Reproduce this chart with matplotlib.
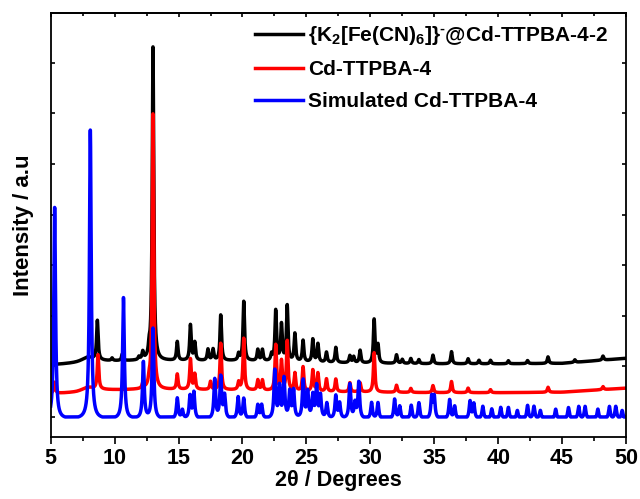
import numpy as np
import matplotlib
matplotlib.use("Agg")
import matplotlib.pyplot as plt
from matplotlib.ticker import MultipleLocator

plt.rcParams['font.family'] = ['Liberation Sans', 'DejaVu Sans']
plt.rcParams['font.weight'] = 'bold'
plt.rcParams['mathtext.fontset'] = 'custom'
plt.rcParams['mathtext.rm'] = 'Liberation Sans:bold'
plt.rcParams['mathtext.bf'] = 'Liberation Sans:bold'
plt.rcParams['mathtext.it'] = 'Liberation Sans:bold'
plt.rcParams['mathtext.default'] = 'bf'

# ---------------- data ----------------
labels = [r"{K$_2$[Fe(CN)$_6$]}$^{\text{-}}$@Cd-TTPBA-4-2", "Cd-TTPBA-4", "Simulated Cd-TTPBA-4"]
colors = ["#000000", "#ff0000", "#0000ff"]

# background anchor points of the measured patterns
bg_x = [5, 7, 9, 12, 15, 20, 25, 30, 35, 40, 45, 50]
black_bg = [1.03, 1.06, 1.10, 1.11, 1.11, 1.11, 1.08, 1.06, 1.05, 1.05, 1.06, 1.16]
red_bg = [0.46, 0.48, 0.53, 0.54, 0.54, 0.53, 0.50, 0.49, 0.48, 0.48, 0.49, 0.57]

# black: {K2[Fe(CN)6]}-@Cd-TTPBA-4-2 peaks (position, height above background)
black_pos = [7.9, 8.65, 9.8, 10.6, 11.9, 12.2, 12.7, 13.0, 14.9, 15.93, 16.27, 17.3, 17.7,
             18.3, 19.7, 20.1, 21.2, 21.56, 22.27, 22.6, 23.05, 23.5, 24.1, 24.74,
             25.5, 25.9, 26.57, 27.3, 28.4, 28.7, 29.2, 30.3, 30.6, 32.05, 32.5, 33.17, 33.8,
             34.9, 36.35, 37.65, 38.5, 39.4, 40.8, 42.3, 43.9, 46.0, 48.2]
black_h = [0.10, 0.78, 0.05, 0.13, 0.06, 0.15, 0.18, 6.20, 0.37, 0.70, 0.35, 0.22, 0.22,
           0.90, 0.13, 1.17, 0.22, 0.22, 0.13, 1.00, 0.72, 1.10, 0.55, 0.42,
           0.45, 0.36, 0.20, 0.30, 0.14, 0.12, 0.25, 0.86, 0.35, 0.17, 0.08, 0.10, 0.08,
           0.17, 0.24, 0.10, 0.07, 0.07, 0.06, 0.06, 0.13, 0.05, 0.08]

# red: Cd-TTPBA-4 peaks
red_pos = [5.3, 7.9, 8.7, 12.2, 12.7, 13.0, 14.9, 15.93, 16.27, 17.5, 18.3, 19.7, 20.1,
           21.2, 21.56, 22.6, 23.05, 23.5, 24.1, 24.74, 25.5, 25.9, 26.57, 27.3,
           28.4, 29.2, 30.3, 32.05, 33.17, 34.9, 36.35, 37.65, 39.4, 43.9, 48.2]
red_h = [0.22, 0.08, 0.68, 0.10, 0.12, 5.45, 0.30, 0.60, 0.30, 0.16, 0.92, 0.15, 1.02,
         0.20, 0.20, 0.90, 0.58, 0.98, 0.35, 0.48, 0.42, 0.36, 0.25, 0.25,
         0.18, 0.18, 0.78, 0.14, 0.08, 0.14, 0.22, 0.09, 0.06, 0.10, 0.06]

# blue: simulated Cd-TTPBA-4 peaks
blue_pos = [5.31, 8.1, 10.69, 12.25, 13.0, 14.9, 15.3, 15.9, 16.2, 17.83, 18.3, 18.6,
            19.66, 20.1, 21.2, 21.5, 22.53, 22.9, 23.25, 23.7, 24.0, 24.75, 25.1, 25.5,
            25.8, 26.1, 26.6, 27.3, 27.6, 28.4, 28.8, 29.1, 30.1, 30.6, 31.9, 32.3,
            33.2, 33.8, 34.8, 35.0, 36.2, 36.6, 37.8, 38.1, 38.8, 39.5, 40.2, 40.8,
            41.5, 42.3, 42.8, 43.3, 44.5, 45.5, 46.3, 46.8, 47.8, 48.7, 49.2, 49.7]
blue_h = [4.14, 5.67, 2.35, 1.07, 1.74, 0.36, 0.12, 0.40, 0.47, 0.73, 0.77, 0.40,
          0.38, 0.35, 0.22, 0.22, 0.90, 0.57, 0.73, 0.47, 0.50, 0.70, 0.47, 0.40,
          0.58, 0.40, 0.25, 0.40, 0.25, 0.63, 0.25, 0.67, 0.27, 0.27, 0.34, 0.20,
          0.22, 0.27, 0.38, 0.38, 0.33, 0.20, 0.30, 0.25, 0.20, 0.15, 0.18, 0.18,
          0.12, 0.22, 0.20, 0.12, 0.15, 0.18, 0.20, 0.20, 0.15, 0.20, 0.20, 0.12]

xticks = [5, 10, 15, 20, 25, 30, 35, 40, 45, 50]
xlabel = "2θ / Degrees"
ylabel = "Intensity / a.u"


def pattern(x, pos, h, width):
    y = np.zeros_like(x)
    for p, a in zip(pos, h):
        w = 1.2 if p == 7.9 else width
        y += a / (1.0 + (2.0 * (x - p) / w) ** 2)
    return y


x = np.linspace(5, 50, 6001)
y_black = np.interp(x, bg_x, black_bg) + pattern(x, black_pos, black_h, 0.14)
y_red = np.interp(x, bg_x, red_bg) + pattern(x, red_pos, red_h, 0.14)
cut = 0.05
y_blue = np.clip(pattern(x, blue_pos, [v + cut for v in blue_h], 0.16) - cut, 0, None)

# ---------------- figure ----------------
fig = plt.figure(figsize=(6.4, 4.99), dpi=100)
ax = fig.add_axes([50.7 / 640, 1 - 436.7 / 499, (626 - 50.7) / 640, (436.7 - 13.3) / 499])

lw = 2.5
for yy, c, lab in zip([y_black, y_red, y_blue], colors, labels):
    ax.plot(x, yy, color=c, lw=lw, label=lab, solid_joinstyle='round')

ax.set_xlim(5, 50)
ax.set_ylim(-0.39, 7.98)
ax.xaxis.set_major_locator(MultipleLocator(5))
ax.xaxis.set_minor_locator(MultipleLocator(2.5))
ax.set_xticks(xticks)
ax.set_xticklabels([str(t) for t in xticks])
ax.yaxis.set_major_locator(MultipleLocator(1))
ax.tick_params(axis='x', which='major', direction='out', length=5, width=1.2,
               labelsize=15.5, pad=3, top=False)
ax.tick_params(axis='x', which='minor', direction='out', length=3, width=1.2, top=False)
ax.tick_params(axis='y', which='major', direction='in', length=3, width=1.2,
               left=True, right=True, labelleft=False)
for lab in ax.get_xticklabels():
    lab.set_fontweight('bold')

sec = ax.secondary_xaxis('top')
sec.xaxis.set_major_locator(MultipleLocator(5))
sec.xaxis.set_minor_locator(MultipleLocator(2.5))
sec.tick_params(axis='x', which='major', direction='in', length=3, width=1.2, labeltop=False)
sec.tick_params(axis='x', which='minor', direction='in', length=2, width=1.2)
sec.spines['top'].set_linewidth(1.3)

for s in ax.spines.values():
    s.set_linewidth(1.3)

ax.set_xlabel(xlabel, fontsize=15.5, fontweight='bold', labelpad=1)
ax.set_ylabel(ylabel, fontsize=16, fontweight='bold', labelpad=12)

leg = ax.legend(loc='upper left', bbox_to_anchor=(255 / 640, 1 - 24 / 499),
                bbox_transform=fig.transFigure, frameon=False,
                handlelength=2.3, handletextpad=0.25, labelspacing=0.62,
                borderpad=0, borderaxespad=0, prop={'weight': 'bold', 'size': 15})

fig.savefig("out.png", dpi=100)
